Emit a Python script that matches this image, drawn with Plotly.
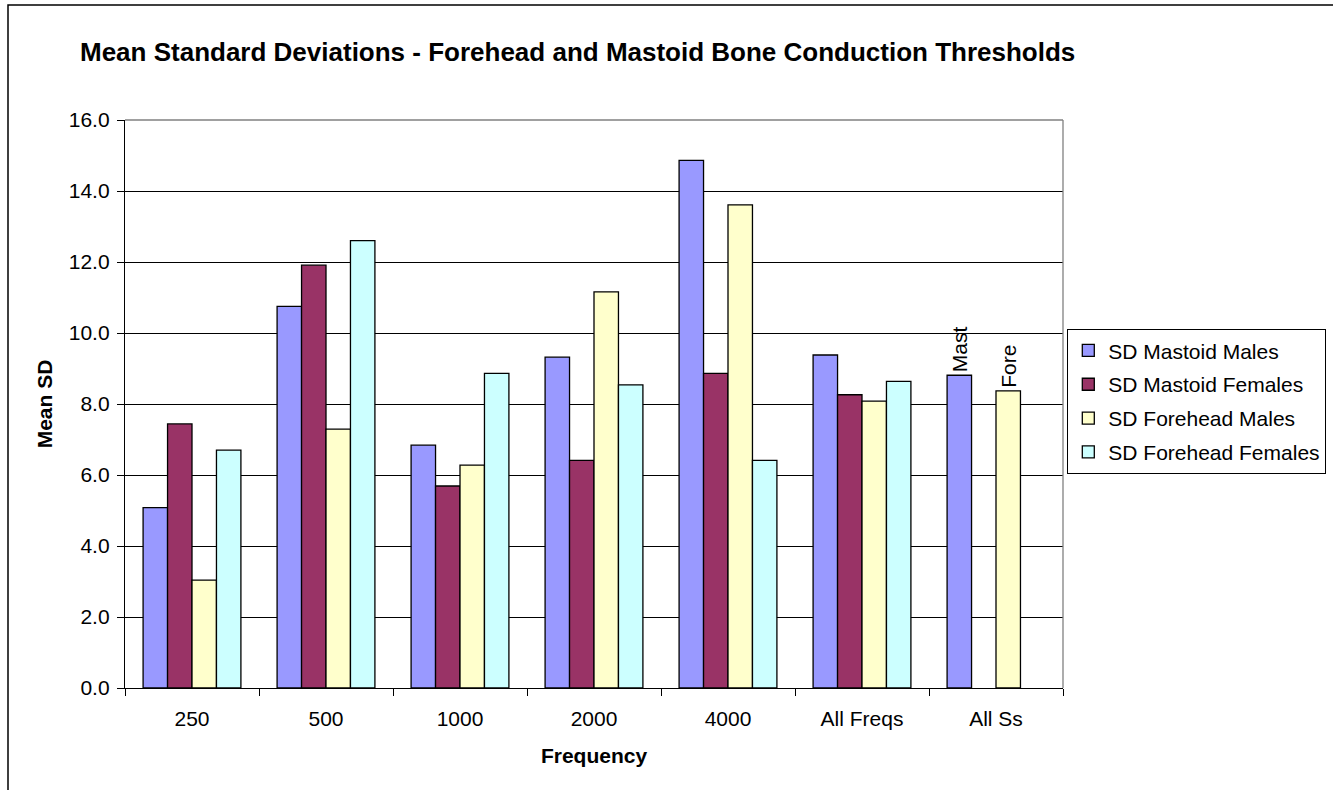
import plotly.graph_objects as go

categories = ["250", "500", "1000", "2000", "4000", "All Freqs", "All Ss"]
series_names = ["SD Mastoid Males", "SD Mastoid Females", "SD Forehead Males", "SD Forehead Females"]
mastoid_males = [5.08, 10.75, 6.84, 9.32, 14.86, 9.38, 8.81]
mastoid_females = [7.44, 11.91, 5.69, 6.41, 8.86, 8.26, None]
forehead_males = [3.04, 7.29, 6.28, 11.16, 13.61, 8.08, 8.37]
forehead_females = [6.70, 12.60, 8.86, 8.54, 6.41, 8.64, None]
mastoid_males_labels = ["", "", "", "", "", "", "Mast"]
forehead_males_labels = ["", "", "", "", "", "", "Fore"]
y_ticks = [0, 2, 4, 6, 8, 10, 12, 14, 16]

colors = ["#9999FF", "#993366", "#FFFFCC", "#CCFFFF"]
values = [mastoid_males, mastoid_females, forehead_males, forehead_females]
labels = [mastoid_males_labels, None, forehead_males_labels, None]

FONT = "Liberation Sans, Arial, sans-serif"
W, H = 1333, 790
L, R, T, B = 125, 270, 120, 102
PW = W - L - R
PH = H - T - B

def px_x(px):
    return (px - L) / PW

def px_y(py):
    return (H - B - py) / PH

fig = go.Figure()
for i, (name, vals, col, lab) in enumerate(zip(series_names, values, colors, labels)):
    kw = {}
    if lab is not None:
        kw = dict(text=lab, textposition="outside", textangle=-90,
                  textfont=dict(family=FONT, size=21, color="black"),
                  constraintext="none", cliponaxis=False)
    fig.add_trace(go.Bar(
        x=categories, y=vals, name=name,
        marker=dict(color=col, line=dict(color="black", width=1.3)),
        legendgroup=f"g{i}",
        **kw,
    ))

fig.update_layout(
    width=W, height=H,
    margin=dict(l=L, r=R, t=T, b=B, autoexpand=False),
    paper_bgcolor="white", plot_bgcolor="white",
    font=dict(family=FONT, size=21, color="black"),
    barmode="group", bargap=0.27, bargroupgap=0,
    title=dict(
        text="<b>Mean Standard Deviations - Forehead and Mastoid Bone Conduction Thresholds</b>",
        font=dict(family=FONT, size=26, color="black"),
        xref="container", x=80 / W, xanchor="left",
        yref="container", y=1 - 52 / H, yanchor="middle",
    ),
    legend=dict(
        x=px_x(1067), y=px_y(329), xanchor="left", yanchor="top",
        bordercolor="black", borderwidth=1.3,
        font=dict(family=FONT, size=21, color="black"),
        tracegroupgap=3.5, bgcolor="white",
    ),
    showlegend=True,
)

fig.update_xaxes(
    type="category", tickson="boundaries", ticks="outside", ticklen=7,
    tickcolor="black", tickwidth=1.3,
    showline=True, linecolor="black", linewidth=1.3,
    showgrid=False, ticklabelstandoff=12,
    tickfont=dict(family=FONT, size=21, color="black"),
    title=dict(text="<b>Frequency</b>", font=dict(family=FONT, size=21, color="black"), standoff=18),
)
fig.update_yaxes(
    range=[0, 16], tickvals=y_ticks, tickformat=".1f",
    ticks="outside", ticklen=7, tickcolor="black", tickwidth=1.3,
    showline=True, linecolor="black", linewidth=1.3,
    showgrid=True, gridcolor="black", gridwidth=1.3, zeroline=False,
    ticklabelstandoff=3,
    tickfont=dict(family=FONT, size=21, color="black"),
    title=dict(text="<b>Mean SD</b>", font=dict(family=FONT, size=21, color="black"), standoff=10),
)

# plot-area border (top and right in grey)
fig.add_shape(type="line", xref="paper", yref="paper", x0=0, x1=1, y0=1, y1=1,
              line=dict(color="#808080", width=1.3), layer="above")
fig.add_shape(type="line", xref="paper", yref="paper", x0=1, x1=1, y0=0, y1=1,
              line=dict(color="#808080", width=1.3), layer="above")
# outer chart border
fig.add_shape(type="rect", xref="paper", yref="paper",
              x0=px_x(8), x1=px_x(1345), y0=px_y(800), y1=px_y(5),
              line=dict(color="black", width=1.5), fillcolor="rgba(0,0,0,0)", layer="above")

fig.write_html("out.html")
